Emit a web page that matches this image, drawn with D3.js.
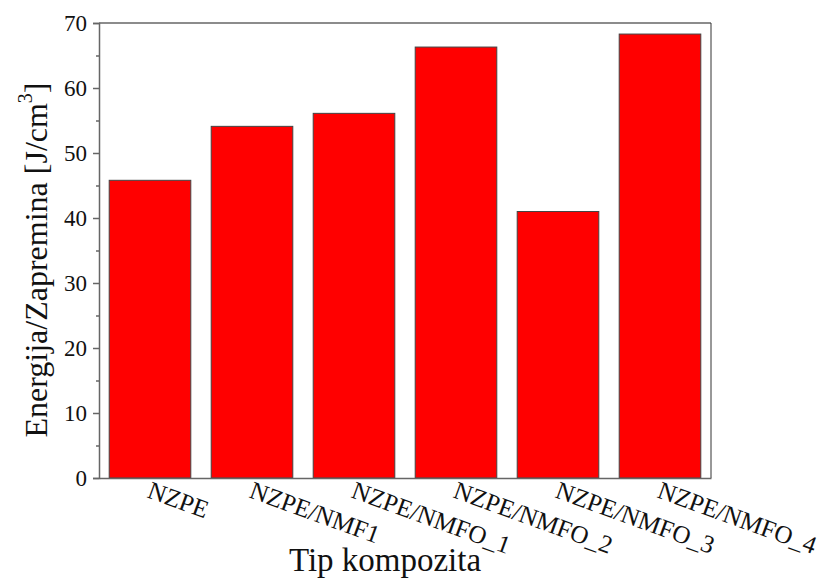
<!DOCTYPE html>
<html>
<head>
<meta charset="utf-8">
<script src="https://cdn.jsdelivr.net/npm/d3@7"></script>
<style>
  html, body { margin: 0; padding: 0; background: #fff; }
  svg { display: block; }
</style>
</head>
<body>
<svg id="chart" width="821" height="578"></svg>
<script>
// Energy density per composite type
const categories = ["NZPE", "NZPE/NMF1", "NZPE/NMFO_1", "NZPE/NMFO_2", "NZPE/NMFO_3", "NZPE/NMFO_4"];
const values = [45.8, 54.1, 56.1, 66.3, 41.0, 68.3];
const yTicks = [0, 10, 20, 30, 40, 50, 60, 70];
const yMinorTicks = [5, 15, 25, 35, 45, 55, 65];

const FONT = "Liberation Serif";
const svg = d3.select("#chart");
const plotLeft = 99, plotRight = 711, plotTop = 23, plotBottom = 478;

const x = d3.scaleBand().domain(categories).range([plotLeft, plotRight]).paddingInner(0.2).paddingOuter(0.1);
const y = d3.scaleLinear().domain([0, 70]).range([plotBottom, plotTop]);

// bars
svg.append("g").selectAll("rect")
  .data(categories)
  .join("rect")
  .attr("x", d => x(d))
  .attr("y", (d, i) => y(values[i]))
  .attr("width", x.bandwidth())
  .attr("height", (d, i) => y(0) - y(values[i]))
  .attr("fill", "#ff0000")
  .attr("stroke", "#444")
  .attr("stroke-width", 1);

// frame: top and right
svg.append("line").attr("x1", plotLeft).attr("x2", plotRight).attr("y1", plotTop).attr("y2", plotTop)
  .attr("stroke", "#666").attr("stroke-width", 1.5);
svg.append("line").attr("x1", plotRight).attr("x2", plotRight).attr("y1", plotTop).attr("y2", plotBottom)
  .attr("stroke", "#333").attr("stroke-width", 1);

// left axis with major and minor ticks
const yAxis = d3.axisLeft(y).tickValues(yTicks).tickSize(6).tickPadding(6).tickFormat(d3.format("d"));
const gy = svg.append("g").attr("transform", `translate(${plotLeft},0)`).call(yAxis);
gy.attr("font-family", FONT);
gy.select(".domain").attr("stroke", "#666").attr("stroke-width", 1.5);
gy.selectAll(".tick line").attr("stroke", "#666").attr("stroke-width", 1.5);
gy.selectAll(".tick text").attr("font-family", FONT).attr("font-size", 23).attr("fill", "#111");

const gyMinor = svg.append("g").attr("transform", `translate(${plotLeft},0)`)
  .call(d3.axisLeft(y).tickValues(yMinorTicks).tickSize(3).tickFormat(""));
gyMinor.select(".domain").remove();
gyMinor.selectAll(".tick line").attr("stroke", "#666").attr("stroke-width", 1.5);

// bottom axis line with slanted category labels
const xAxis = d3.axisBottom(x).tickSize(0).tickPadding(0);
const gx = svg.append("g").attr("transform", `translate(0,${plotBottom})`).call(xAxis);
gx.attr("font-family", FONT);
gx.select(".domain").attr("stroke", "#666").attr("stroke-width", 1.5);
gx.selectAll(".tick text")
  .attr("font-family", FONT)
  .attr("font-size", 25)
  .attr("fill", "#111")
  .attr("text-anchor", "start")
  .attr("dy", 0)
  .attr("transform", "translate(-4,19) rotate(20)");

// axis titles
svg.append("text")
  .attr("x", 385).attr("y", 571)
  .attr("text-anchor", "middle")
  .attr("font-family", FONT)
  .attr("font-size", 33)
  .attr("fill", "#111")
  .text("Tip kompozita");

const yt = svg.append("text")
  .attr("transform", "translate(47,260) rotate(-90)")
  .attr("text-anchor", "middle")
  .attr("font-family", FONT)
  .attr("font-size", 32)
  .attr("fill", "#111");
yt.append("tspan").text("Energija/Zapremina [J/cm");
yt.append("tspan").attr("font-size", 20).attr("dy", -15).text("3");
yt.append("tspan").attr("dy", 15).text("]");
</script>
</body>
</html>
